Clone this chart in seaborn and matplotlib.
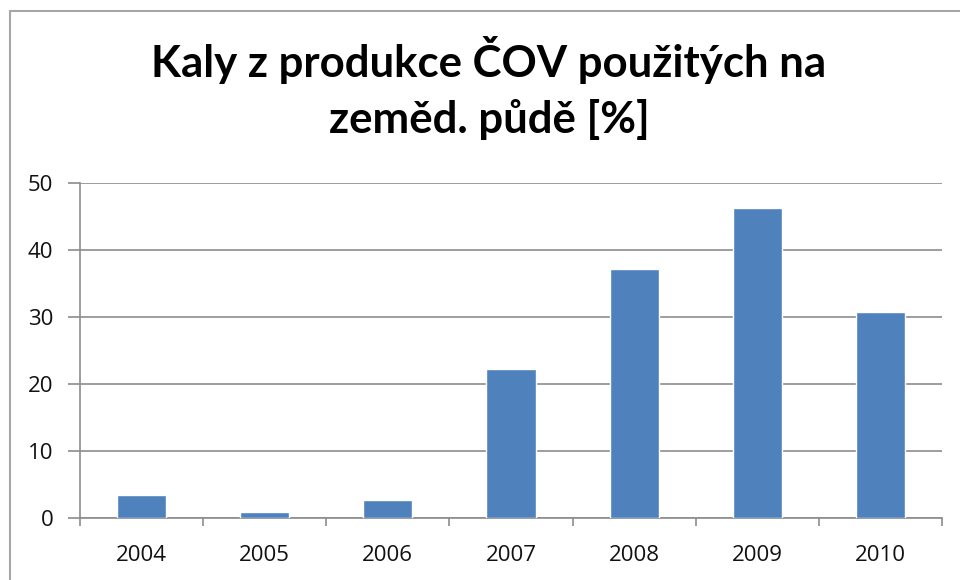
import matplotlib
matplotlib.use("Agg")
import matplotlib.pyplot as plt
import seaborn as sns
import pandas as pd
from matplotlib.lines import Line2D

years = ["2004", "2005", "2006", "2007", "2008", "2009", "2010"]
values = [3.4, 1.0, 2.8, 22.2, 37.1, 46.3, 30.8]
yticks = [0, 10, 20, 30, 40, 50]
title_lines = ["Kaly z produkce ČOV použitých na", "zeměd. půdě [%]"]

sns.set_theme(style="white")
plt.rcParams["font.family"] = ["Open Sans", "DejaVu Sans"]

W, H = 960, 580
fig = plt.figure(figsize=(W / 100, H / 100), dpi=100)
ax = fig.add_axes([80 / W, 1 - 518.3 / H, (942 - 80) / W, (518.3 - 182.7) / H])

df = pd.DataFrame({"year": years, "value": values})
sns.barplot(data=df, x="year", y="value", color="#4F81BD", width=0.4,
            saturation=1, ax=ax, zorder=3)

grid_c = "#8c8c8c"
ax.set_xlim(-0.5, len(years) - 0.5)
ax.set_ylim(0, 50)
ax.set_yticks(yticks)
ax.set_yticklabels([str(t) for t in yticks])
ax.yaxis.grid(True, color=grid_c, linewidth=1.2)
ax.xaxis.grid(False)
ax.set_axisbelow(True)
ax.set_xlabel("")
ax.set_ylabel("")

for s in ["top", "right"]:
    ax.spines[s].set_visible(False)
for s in ["left", "bottom"]:
    ax.spines[s].set_visible(True)
    ax.spines[s].set_color(grid_c)
    ax.spines[s].set_linewidth(1.2)

ax.set_xticks([i - 0.5 for i in range(len(years) + 1)], minor=True)
ax.tick_params(axis="x", which="major", length=0, pad=19.5, labelsize=16, labelcolor="#111111")
ax.tick_params(axis="x", which="minor", length=6, width=1.2, color=grid_c, direction="out", bottom=True)
ax.tick_params(axis="y", which="major", length=8.6, width=1.2, color=grid_c, pad=10.5,
               labelsize=16, labelcolor="#111111", left=True)

title_font = ["Lato", "DejaVu Sans"]
fig.text(489 / W, 1 - 77 / H, title_lines[0], ha="center", va="baseline",
         fontsize=31.5, fontweight="bold", family=title_font, color="black")
fig.text(489 / W, 1 - 133 / H, title_lines[1], ha="center", va="baseline",
         fontsize=31.5, fontweight="bold", family=title_font, color="black")

border_c = "#a6a6a6"
fig.add_artist(Line2D([10 / W, 10 / W], [0, 1 - 11 / H], transform=fig.transFigure,
                      color=border_c, linewidth=1.5))
fig.add_artist(Line2D([10 / W, 1], [1 - 11 / H, 1 - 11 / H], transform=fig.transFigure,
                      color=border_c, linewidth=1.5))

fig.savefig("out.png", dpi=100, facecolor="white")
